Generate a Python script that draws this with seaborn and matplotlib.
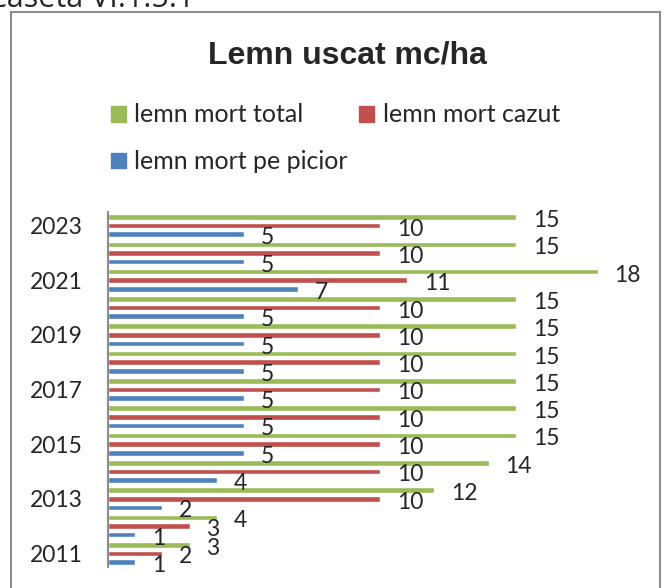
import matplotlib.pyplot as plt
import matplotlib.patches as mpatches
import pandas as pd
import seaborn as sns

years = [2011, 2012, 2013, 2014, 2015, 2016, 2017, 2018, 2019, 2020, 2021, 2022, 2023]
pe_picior = [1, 1, 2, 4, 5, 5, 5, 5, 5, 5, 7, 5, 5]
cazut = [2, 3, 10, 10, 10, 10, 10, 10, 10, 10, 11, 10, 10]
total = [3, 4, 12, 14, 15, 15, 15, 15, 15, 15, 18, 15, 15]

series_names = ['lemn mort total', 'lemn mort cazut', 'lemn mort pe picior']
series_colors = ['#9BBB59', '#C0504D', '#4F81BD']

sns.set_style('white')
plt.rcParams['font.family'] = ['Lato', 'DejaVu Sans']

rows = []
for i, y in enumerate(years):
    rows.append((str(y), series_names[0], total[i]))
    rows.append((str(y), series_names[1], cazut[i]))
    rows.append((str(y), series_names[2], pe_picior[i]))
df = pd.DataFrame(rows, columns=['an', 'serie', 'valoare'])

order = [str(y) for y in years[::-1]]

fig = plt.figure(figsize=(6.66, 5.88), dpi=100)
ax = fig.add_axes([108 / 666, 1 - 567 / 588, 544 / 666, 355 / 588])

sns.barplot(data=df, y='an', x='valoare', hue='serie', order=order,
            hue_order=series_names, palette=series_colors, orient='h',
            width=0.95, gap=0.35, ax=ax, legend=False, saturation=1)

for cont in ax.containers:
    labels = ax.bar_label(cont, fmt='%g', fontsize=16.5, padding=12)
    for lab in labels:
        lab.xyann = (12, -2.5)

ax.set_xlim(0, 20)
ax.set_ylim(len(order) - 0.5, -0.5)
ax.set_xticks([])
ax.set_yticks(range(0, len(order), 2))
ax.set_yticklabels(order[::2], fontsize=16.5)
ax.tick_params(axis='y', length=0, pad=18)
ax.set_xlabel('')
ax.set_ylabel('')
for s in ['top', 'right', 'bottom']:
    ax.spines[s].set_visible(False)
ax.spines['left'].set_color('#8c8c8c')
ax.spines['left'].set_linewidth(1.5)

# legend, two columns: total / cazut on the first row, pe picior below
handles = [mpatches.Patch(color=c, label=n) for n, c in zip(series_names, series_colors)]
handles = [handles[0], handles[2], handles[1]]
fig.legend(handles=handles, ncol=2, loc='upper left',
           bbox_to_anchor=(88 / 666, 1 - 81 / 588), frameon=False,
           fontsize=18, handlelength=0.6, handleheight=0.6, handletextpad=0.35,
           columnspacing=0.45, labelspacing=0.95)

fig.text(347 / 666, 1 - 55 / 588, 'Lemn uscat mc/ha', ha='center', va='center',
         fontsize=23, fontweight='bold', family=['Liberation Sans', 'DejaVu Sans'])

fig.text(-8 / 666, 1 - 7 / 588, 'caseta VI.1.5.1', ha='left', va='baseline',
         fontsize=22, family=['Open Sans', 'DejaVu Sans'])

frame = mpatches.Rectangle((11 / 666, -0.1), 649 / 666, 1.1 - 12 / 588,
                           transform=fig.transFigure, fill=False,
                           edgecolor='#8c8c8c', linewidth=1.5, clip_on=False)
fig.patches.append(frame)

fig.savefig('out.png', dpi=100)
